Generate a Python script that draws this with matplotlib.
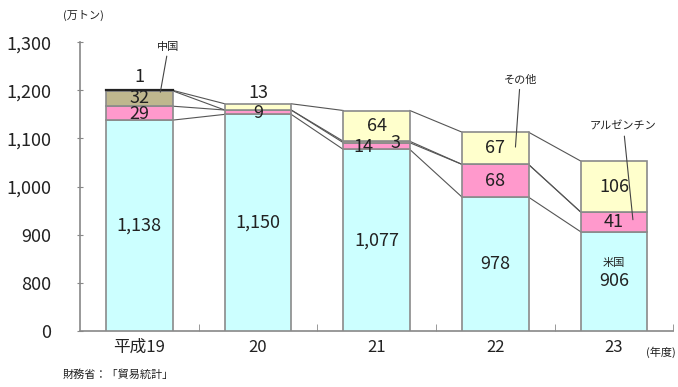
import numpy as np
import matplotlib.pyplot as plt

plt.rcParams['font.family'] = ['Noto Sans CJK JP', 'DejaVu Sans']

years = ["平成19", "20", "21", "22", "23"]
usa = [1138, 1150, 1077, 978, 906]
argentina = [29, 9, 14, 68, 41]
china = [32, 0, 3, 0, 0]
other = [1, 13, 64, 67, 106]

# axis is broken: "0" sits one step below 800
base = 700
colors = ["#CCFFFF", "#FF99CC", "#BFB78E", "#FFFFCC"]
series = [usa, argentina, china, other]

fig = plt.figure(figsize=(6.78, 3.87), dpi=100)
ax = fig.add_axes([0.118, 0.145, 0.875, 0.746])

x = np.arange(len(years))
w = 0.56
bottoms = np.full(len(years), float(base))
bounds = []
for i, (vals, c) in enumerate(zip(series, colors)):
    heights = np.array(vals, dtype=float)
    if i == 0:
        heights = heights - base
    ax.bar(x, heights, w, bottom=bottoms, color=c, edgecolor="#8a8a8a",
           linewidth=1.2, zorder=3)
    bottoms = bottoms + heights
    bounds.append(bottoms.copy())

# black rim on the tiny "other" slice of the first year
ax.plot([x[0] - w / 2, x[0] + w / 2], [bounds[3][0]] * 2, color="#222",
        lw=1.6, zorder=4)

# connector lines between neighbouring bars
for b in bounds:
    for j in range(len(years) - 1):
        ax.plot([x[j] + w / 2, x[j + 1] - w / 2], [b[j], b[j + 1]],
                color="#555555", lw=0.8, zorder=2)

fs = 13
tc = "#222222"
for j in range(len(years)):
    ax.text(x[j], (base + usa[j]) / 2, f"{usa[j]:,}", ha="center",
            va="center", fontsize=fs, color=tc, zorder=5)

# year 19
ax.text(x[0], bounds[3][0] + 28, f"{other[0]}", ha="center", va="center", fontsize=fs, color=tc, zorder=5)
ax.text(x[0], (bounds[1][0] + bounds[2][0]) / 2 + 1, f"{china[0]}", ha="center", va="center", fontsize=fs, color=tc, zorder=5)
ax.text(x[0], (bounds[0][0] + bounds[1][0]) / 2 - 1, f"{argentina[0]}", ha="center", va="center", fontsize=fs, color=tc, zorder=5)
# year 20
ax.text(x[1], bounds[3][1] + 22, f"{other[1]}", ha="center", va="center", fontsize=fs, color=tc, zorder=5)
ax.text(x[1], (bounds[0][1] + bounds[1][1]) / 2 - 2, f"{argentina[1]}", ha="center", va="center", fontsize=fs, color=tc, zorder=5)
# year 21
ax.text(x[2], (bounds[2][2] + bounds[3][2]) / 2, f"{other[2]}", ha="center", va="center", fontsize=fs, color=tc, zorder=5)
ax.text(x[2] - 0.11, (bounds[0][2] + bounds[1][2]) / 2 - 1, f"{argentina[2]}", ha="center", va="center", fontsize=fs, color=tc, zorder=5)
ax.text(x[2] + 0.16, (bounds[1][2] + bounds[2][2]) / 2 - 2, f"{china[2]}", ha="center", va="center", fontsize=fs, color=tc, zorder=5)
# years 22, 23
for j in (3, 4):
    ax.text(x[j], (bounds[2][j] + bounds[3][j]) / 2, f"{other[j]}", ha="center", va="center", fontsize=fs, color=tc, zorder=5)
    ax.text(x[j], (bounds[0][j] + bounds[1][j]) / 2, f"{argentina[j]}", ha="center", va="center", fontsize=fs, color=tc, zorder=5)
ax.text(x[4], (base + usa[4]) / 2 + 38, "米国", ha="center", va="center", fontsize=8, color=tc, zorder=5)

# callouts
line = dict(arrowstyle="-", color="#444444", lw=0.8, shrinkA=1, shrinkB=0)
ax.annotate("中国", xy=(0.177, 1196), xytext=(0.245, 1290), ha="center", va="center",
            fontsize=8, color=tc, arrowprops=line, zorder=6)
ax.annotate("その他", xy=(3.17, 1082), xytext=(3.21, 1221), ha="center", va="center",
            fontsize=8, color=tc, arrowprops=line, zorder=6)
ax.annotate("アルゼンチン", xy=(4.16, 931), xytext=(4.08, 1124), ha="center", va="center",
            fontsize=8, color=tc, arrowprops=line, zorder=6)

ax.set_xlim(-0.5, 4.5)
ax.set_ylim(base, 1300)
ax.set_yticks([700, 800, 900, 1000, 1100, 1200, 1300])
ax.set_yticklabels(["0", "800", "900", "1,000", "1,100", "1,200", "1,300"],
                   fontsize=13, color=tc)
ax.set_xticks(x)
ax.set_xticklabels(years, fontsize=12, color=tc)
ax.set_xticks(np.arange(0.5, 5, 1), minor=True)
ax.tick_params(axis="x", which="major", length=0, pad=6)
ax.tick_params(axis="x", which="minor", direction="in", length=5, color="#888888")
ax.tick_params(axis="y", direction="inout", length=5, color="#888888", pad=18)
for s in ("top", "right"):
    ax.spines[s].set_visible(False)
for s in ("left", "bottom"):
    ax.spines[s].set_color("#888888")
    ax.spines[s].set_linewidth(1.2)

fig.text(83 / 678, 1 - 15 / 387, "(万トン)", ha="center", va="center", fontsize=8, color=tc)
fig.text(676 / 678, 1 - 352 / 387, "(年度)", ha="right", va="center", fontsize=8, color=tc)
fig.text(63 / 678, 1 - 375 / 387, "財務省：「貿易統計」", ha="left", va="center", fontsize=8, color=tc)

fig.savefig("out.png", dpi=100)
